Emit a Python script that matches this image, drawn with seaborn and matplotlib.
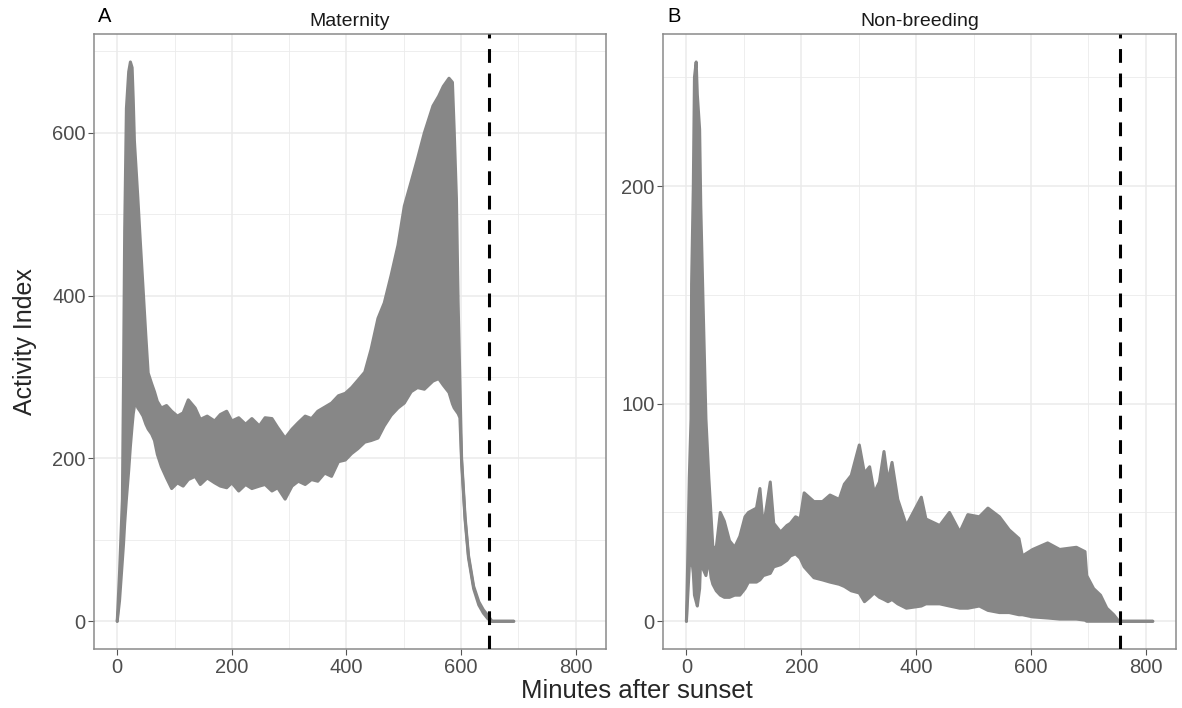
import numpy as np
import pandas as pd
import matplotlib
matplotlib.use("Agg")
import matplotlib.pyplot as plt
from matplotlib.ticker import MultipleLocator
import seaborn as sns

# envelope of the activity index trace (minutes after sunset)
mat_x = [0, 4, 9, 11, 13, 16, 20, 23, 26, 28, 30, 33, 36, 40, 45, 50, 54, 60, 65, 70,
         77, 86, 95, 105, 115, 124, 136, 145, 157, 170, 180, 191, 200, 212, 224, 235,
         248, 258, 270, 280, 293, 305, 316, 328, 339, 350, 362, 374, 386, 398, 409, 420,
         432, 443, 455, 466, 478, 490, 501, 513, 524, 536, 551, 561, 569, 579, 585, 588,
         592, 595, 598, 601, 607, 613, 622, 631, 639, 647, 654, 692]
mat_hi = [0, 60, 150, 300, 480, 630, 675, 687, 680, 640, 590, 555, 520, 470, 410, 350, 305, 292, 282, 270,
          262, 265, 258, 252, 256, 272, 262, 248, 252, 246, 254, 258, 246, 250, 242, 249,
          240, 250, 249, 238, 225, 236, 244, 252, 249, 258, 263, 268, 277, 280, 287, 296,
          306, 334, 372, 391, 425, 462, 510, 540, 568, 600, 633, 645, 657, 667, 662, 605,
          519, 390, 295, 200, 129, 81, 43, 24, 14, 7, 0, 0]
mat_lo = [0, 25, 75, 95, 120, 150, 185, 215, 240, 255, 264, 268, 262, 258, 252, 242, 236, 230, 222, 205,
          190, 176, 163, 170, 166, 174, 178, 168, 176, 170, 166, 164, 170, 160, 168, 163,
          166, 168, 160, 164, 150, 166, 172, 168, 174, 172, 182, 178, 196, 198, 206, 212,
          220, 222, 225, 240, 253, 262, 268, 282, 287, 285, 295, 298, 290, 281, 267, 262,
          258, 255, 250, 195, 125, 78, 40, 20, 10, 3, 0, 0]

non_x = [0, 2, 5, 8, 9, 12, 14, 17, 19, 23, 25, 29, 34, 39, 43, 46, 52, 59, 66, 75,
         84, 93, 102, 108, 122, 128, 134, 146, 152, 164, 175, 181, 190, 198, 205, 222,
         237, 250, 266, 275, 287, 301, 310, 319, 327, 336, 344, 351, 358, 368, 383, 409,
         417, 441, 458, 476, 490, 510, 525, 545, 562, 579, 585, 603, 629, 650, 679, 694,
         697, 709, 721, 732, 744, 753, 812]
non_hi = [0, 25, 66, 93, 155, 200, 250, 257, 242, 226, 191, 146, 93, 66, 48, 34, 34, 50, 46, 37,
          34, 39, 48, 50, 52, 61, 43, 64, 45, 41, 44, 45, 48, 47, 59, 55,
          55, 58, 56, 63, 67, 81, 68, 71, 59, 64, 78, 64, 73, 56, 44, 57,
          47, 44, 50, 41, 49, 48, 52, 48, 42, 38, 30, 33, 36, 33, 34, 32,
          21, 15, 12, 6, 3, 0, 0]
non_lo = [0, 10, 25, 28, 29, 22, 12, 9, 7, 15, 30, 24, 21, 29, 20, 17, 14, 12, 11, 11,
          12, 12, 15, 18, 18, 19, 21, 22, 25, 26, 28, 30, 31, 29, 25, 20,
          19, 18, 17, 16, 14, 13, 9, 11, 13, 11, 10, 9, 10, 8, 6, 7,
          8, 8, 7, 6, 6, 7, 5, 4, 4, 3, 3, 2, 1.5, 1, 1, 0.5,
          0, 0, 0, 0, 0, 0, 0]

panels = ["Maternity", "Non-breeding"]
tags = ["A", "B"]
sunrise = [648, 755]
y_ticks = [[0, 200, 400, 600], [0, 100, 200]]

line_col = "#878787"
grid_col = "#EBEBEB"

sns.set_style("white")
plt.rcParams["font.family"] = ["Liberation Sans", "DejaVu Sans"]

fig = plt.figure(figsize=(11.82, 7.08), dpi=100)
axA = fig.add_axes([0.0795, 0.083, 0.433, 0.869])
axB = fig.add_axes([0.561, 0.083, 0.434, 0.869])

data = [(mat_x, mat_hi, mat_lo), (non_x, non_hi, non_lo)]
for i, ax in enumerate([axA, axB]):
    xs, hi, lo = data[i]
    df = pd.DataFrame({"minute": xs, "upper": hi, "lower": lo})
    ax.fill_between(df["minute"], df["lower"], df["upper"], color=line_col, lw=0)
    sns.lineplot(data=df, x="minute", y="upper", ax=ax, color=line_col, lw=2.2)
    sns.lineplot(data=df, x="minute", y="lower", ax=ax, color=line_col, lw=2.2)
    ax.axvline(sunrise[i], color="black", lw=2.2, dashes=(4.5, 3.5), zorder=5)

    ymax = max(hi)
    ax.set_ylim(-0.05 * ymax, ymax * 1.05)
    ax.set_xlim(-40.6, 852.6)
    ax.set_xticks([0, 200, 400, 600, 800])
    ax.set_yticks(y_ticks[i])
    ax.xaxis.set_minor_locator(MultipleLocator(100))
    ax.yaxis.set_minor_locator(MultipleLocator(y_ticks[i][1] / 2))
    ax.grid(which="major", color=grid_col, lw=1.1, zorder=0)
    ax.grid(which="minor", color=grid_col, lw=0.6, zorder=0)
    ax.set_axisbelow(True)
    ax.tick_params(axis="both", which="major", labelsize=14.5, labelcolor="#4D4D4D",
                   length=4, width=0.8, color="#555555", pad=2, left=True, bottom=True)
    ax.tick_params(which="minor", length=0)
    for s in ax.spines.values():
        s.set_color("#8a8a8a")
        s.set_linewidth(1.1)
    ax.set_xlabel("")
    ax.set_ylabel("")
    ax.set_title(panels[i], fontsize=14, color="#1A1A1A", pad=6)
    ax.text(0.008, 1.013, tags[i], transform=ax.transAxes, fontsize=14.5,
            ha="left", va="bottom", color="black")

fig.text(0.539, 0.024, "Minutes after sunset", ha="center", va="center", fontsize=18.5)
fig.text(0.021, 0.518, "Activity Index", ha="center", va="center", rotation=90, fontsize=18)

fig.savefig("out.png", dpi=100)
